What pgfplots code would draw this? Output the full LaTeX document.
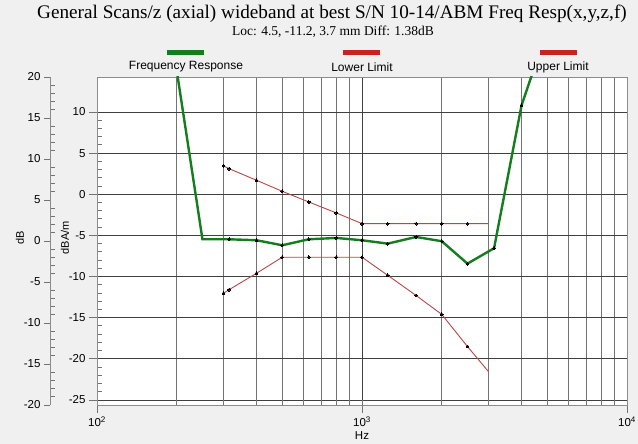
\documentclass[border=0pt]{standalone}
\usepackage{pgfplots}
\pgfplotsset{compat=1.18}
\usepackage{fontspec}
\setmainfont{Liberation Sans}
\newfontfamily\seriffont{Liberation Serif}
\definecolor{bg}{RGB}{240,240,240}
\definecolor{frgreen}{RGB}{20,125,30}
\definecolor{limred}{RGB}{185,70,70}
\definecolor{legred}{RGB}{200,35,35}
\definecolor{axgray}{RGB}{140,140,140}
\begin{document}
\begin{tikzpicture}[x=1pt,y=1pt]
\fill[bg] (0,0) rectangle (638,444);
\useasboundingbox (0,0) rectangle (638,444);
% outer dB axis
\begin{axis}[
  at={(50pt,39pt)}, anchor=south west,
  scale only axis, width=10pt, height=328pt,
  xmin=0, xmax=1, ymin=-20, ymax=20,
  axis y line*=left, axis x line=none,
  ytick={-20,-15,...,20},
  yticklabels={-20,-15,-10,-5,0,5,10,15,20},
  minor y tick num=4,
  tick align=outside,
  major tick length=6pt, minor tick length=-5pt,
  axis line style={axgray, line width=0.9pt},
  tick style={black!55, line width=0.9pt},
  tick label style={font=\fontsize{11.5}{13}\selectfont},
  ylabel={dB},
  ylabel style={at={(axis description cs:0,0.51)}, anchor=center, yshift=30pt, font=\fontsize{11}{13}\selectfont},
]
\end{axis}
% main axis
\begin{axis}[
  at={(97pt,39pt)}, anchor=south west,
  scale only axis, width=530pt, height=328pt,
  xmode=log, xmin=100, xmax=10000,
  ymin=-25.61, ymax=14.25,
  axis background/.style={fill=white},
  axis line style={axgray, line width=0.9pt},
  xtick={100,1000,10000},
  xticklabels={10\textsuperscript{2},10\textsuperscript{3},10\textsuperscript{4}},
  ytick={-25,-20,...,10},
  yticklabels={-25,-20,-15,-10,-5,0,5,10},
  minor y tick num=4,
  xtick pos=bottom, ytick pos=left,
  tick align=outside,
  major tick length=8pt, minor tick length=-5pt,
  tick style={black!55, line width=0.9pt},
  xmajorgrids, xminorgrids, ymajorgrids,
  major grid style={black!75, line width=0.9pt},
  minor grid style={black!55, line width=0.9pt},
  tick label style={font=\fontsize{11.5}{13}\selectfont},
  xlabel={Hz},
  xlabel style={at={(axis description cs:0.5,0)}, anchor=center, yshift=-31pt, font=\fontsize{11.5}{13}\selectfont},
  ylabel={dBA/m},
  ylabel style={at={(axis description cs:0,0.51)}, anchor=center, yshift=32pt, font=\fontsize{11}{13}\selectfont},
  clip=true,
]
% Frequency Response
\addplot[frgreen, line width=2.4pt, mark=*, mark size=1.4pt,
  mark options={black, fill=black, line width=0pt}, mark indices={2,...,13}]
  table {
f v
200 15
250 -5.47
315 -5.47
400 -5.59
500 -6.20
630 -5.47
800 -5.31
1000 -5.59
1250 -6.00
1600 -5.19
2000 -5.71
2500 -8.43
3150 -6.56
4000 10.8
5000 20
};
% Upper Limit
\addplot[limred, line width=0.9pt, mark=*, mark size=1.4pt,
  mark options={black, fill=black, line width=0pt}, mark indices={1,...,11}]
  table {
f v
300 3.44
315 3.11
400 1.70
500 0.36
630 -0.94
800 -2.27
1000 -3.57
1250 -3.57
1600 -3.57
2000 -3.57
2500 -3.57
3000 -3.57
};
% Lower Limit
\addplot[limred, line width=0.9pt, mark=*, mark size=1.4pt,
  mark options={black, fill=black, line width=0pt}, mark indices={1,...,11}]
  table {
f v
300 -12.03
315 -11.60
400 -9.60
500 -7.65
630 -7.65
800 -7.65
1000 -7.65
1250 -9.85
1600 -12.30
2000 -14.60
2500 -18.50
3000 -21.55
};
\end{axis}
% titles
\node[font=\seriffont\fontsize{19.2}{21}\selectfont] at (332,430) {General Scans/z (axial) wideband at best S/N 10-14/ABM Freq Resp(x,y,z,f)};
\node[font=\seriffont\fontsize{13.5}{15}\selectfont] at (333,412) {Loc: 4.5, -11.2, 3.7 mm Diff: 1.38dB};
% legend
\fill[frgreen] (167,388.5) rectangle (204,393.5);
\node[font=\fontsize{12}{14}\selectfont] at (186,377) {Frequency Response};
\fill[legred] (343,388.5) rectangle (380,393.5);
\node[font=\fontsize{12}{14}\selectfont] at (362,377) {Lower Limit};
\fill[legred] (540,388.5) rectangle (577,393.5);
\node[font=\fontsize{12}{14}\selectfont] at (558,377) {Upper Limit};
\end{tikzpicture}
\end{document}
